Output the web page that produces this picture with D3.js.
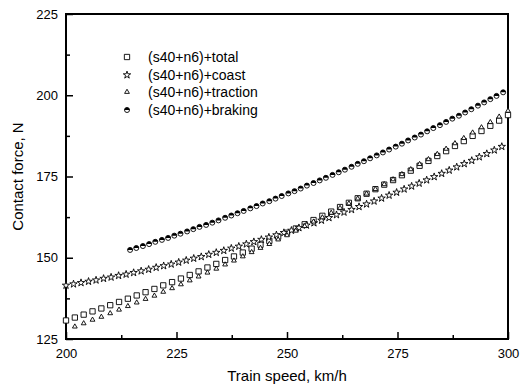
<!DOCTYPE html>
<html>
<head>
<meta charset="utf-8">
<script src="https://cdn.jsdelivr.net/npm/d3@7"></script>
<style>
  body { margin: 0; background: #fff; }
  svg { display: block; font-family: "Liberation Sans", Arial, sans-serif; }
</style>
</head>
<body>
<div id="chart"></div>
<script>
// total (squares)
const totalSpeed = [200,202,204,206,208,210,212,214,216,218,220,222,224,226,228,230,232,234,236,238,240,242,244,246,248,250,252,254,256,258,260,262,264,266,268,270,272,274,276,278,280,282,284,286,288,290,292,294,296,298,300];
const totalForce = [130.7,131.6,132.5,133.5,134.4,135.4,136.4,137.4,138.4,139.4,140.4,141.5,142.5,143.6,144.7,145.8,147.0,148.1,149.3,150.4,151.6,152.8,154.0,155.2,156.5,157.7,159.0,160.3,161.6,162.9,164.2,165.6,166.9,168.3,169.7,171.1,172.5,173.9,175.4,176.8,178.3,179.8,181.3,182.8,184.4,185.9,187.5,189.0,190.6,192.2,193.9];

// coast (stars)
const coastSpeed = [200,201.7,203.4,205.1,206.8,208.5,210.2,211.9,213.6,215.3,217,218.7,220.4,222.1,223.8,225.5,227.2,228.9,230.6,232.3,234,235.7,237.4,239.1,240.8,242.5,244.2,245.9,247.6,249.3,251,252.7,254.4,256.1,257.8,259.5,261.2,262.9,264.6,266.3,268,269.7,271.4,273.1,274.8,276.5,278.2,279.9,281.6,283.3,285,286.7,288.4,290.1,291.8,293.5,295.2,296.9,298.6];
const coastForce = [141.5,141.9,142.3,142.7,143.1,143.6,144.0,144.5,144.9,145.4,145.9,146.4,147.0,147.5,148.0,148.6,149.2,149.8,150.3,151.0,151.6,152.2,152.9,153.5,154.2,154.9,155.6,156.3,157.0,157.7,158.4,159.2,160.0,160.7,161.5,162.3,163.2,164.0,164.8,165.7,166.5,167.4,168.3,169.2,170.1,171.1,172.0,172.9,173.9,174.9,175.9,176.9,177.9,178.9,179.9,181.0,182.0,183.1,184.2];

// traction (triangles)
const tractionSpeed = [202,204,206,208,210,212,214,216,218,220,222,224,226,228,230,232,234,236,238,240,242,244,246,248,250,252,254,256,258,260,262,264,266,268,270,272,274,276,278,280,282,284,286,288,290,292,294,296,298,300];
const tractionForce = [128.8,129.8,130.9,131.8,132.9,134.0,135.1,136.2,137.3,138.3,139.5,140.6,141.8,143.0,144.2,145.4,146.6,147.9,149.1,150.4,151.7,153.0,154.2,155.6,156.9,158.3,159.7,161.1,162.4,163.8,165.3,166.7,168.2,169.7,171.1,172.6,174.1,175.7,177.2,178.8,180.3,181.9,183.5,185.2,186.8,188.5,190.1,191.7,193.4,195.2];

// braking (half-filled circles)
const brakingSpeed = [214.5,215.9,217.4,218.8,220.2,221.7,223.1,224.5,225.9,227.4,228.8,230.2,231.7,233.1,234.5,236.0,237.4,238.8,240.2,241.7,243.1,244.5,246.0,247.4,248.8,250.3,251.7,253.1,254.5,256.0,257.4,258.8,260.3,261.7,263.1,264.6,266.0,267.4,268.8,270.3,271.7,273.1,274.6,276.0,277.4,278.9,280.3,281.7,283.1,284.6,286.0,287.4,288.9,290.3,291.7,293.2,294.6,296.0,297.4,298.9];
const brakingForce = [152.4,153.0,153.6,154.2,154.9,155.5,156.1,156.8,157.4,158.1,158.8,159.5,160.1,160.8,161.5,162.3,163.0,163.7,164.4,165.2,165.9,166.7,167.4,168.2,169.0,169.8,170.5,171.3,172.2,173.0,173.8,174.6,175.5,176.3,177.1,178.0,178.9,179.7,180.6,181.5,182.4,183.3,184.2,185.1,186.1,187.0,187.9,188.9,189.9,190.8,191.8,192.8,193.7,194.7,195.7,196.8,197.8,198.8,199.8,200.9];

const xTicks = [200, 225, 250, 275, 300];
const yTicks = [125, 150, 175, 200, 225];
const legendLabels = ["(s40+n6)+total", "(s40+n6)+coast", "(s40+n6)+traction", "(s40+n6)+braking"];

const width = 525, height = 386;
const margin = { top: 14, right: 17, bottom: 47, left: 66 };

const svg = d3.select("#chart").append("svg")
  .attr("width", width)
  .attr("height", height);

const x = d3.scaleLinear().domain([200, 300]).range([margin.left, width - margin.right]);
const y = d3.scaleLinear().domain([125, 225]).range([height - margin.bottom, margin.top]);

const toPts = (xs, ys) => xs.map((v, i) => ({ v, f: ys[i] }));

// axes with inward ticks
const xAxis = svg.append("g")
  .attr("transform", `translate(0,${height - margin.bottom})`)
  .call(d3.axisBottom(x).tickValues(d3.range(200, 300.1, 12.5)).tickSize(-4).tickFormat(""));
xAxis.selectAll(".tick line").filter(d => xTicks.includes(d)).attr("y2", -7);
xAxis.select(".domain").remove();

svg.append("g")
  .attr("transform", `translate(0,${height - margin.bottom})`)
  .call(d3.axisBottom(x).tickValues(xTicks).tickSize(0).tickPadding(10))
  .call(g => g.select(".domain").remove())
  .selectAll("text").attr("font-size", 13).attr("fill", "#000")
  .attr("font-family", "Liberation Sans, Arial, sans-serif");

const yAxis = svg.append("g")
  .attr("transform", `translate(${margin.left},0)`)
  .call(d3.axisLeft(y).tickValues(d3.range(125, 225.1, 12.5)).tickSize(-4).tickFormat(""));
yAxis.selectAll(".tick line").filter(d => yTicks.includes(d)).attr("x2", 7);
yAxis.select(".domain").remove();

svg.append("g")
  .attr("transform", `translate(${margin.left},0)`)
  .call(d3.axisLeft(y).tickValues(yTicks).tickSize(0).tickPadding(8))
  .call(g => g.select(".domain").remove())
  .selectAll("text").attr("font-size", 13).attr("fill", "#000")
  .attr("font-family", "Liberation Sans, Arial, sans-serif");

svg.selectAll(".tick line").attr("stroke", "#000").attr("stroke-width", 1.5);

// frame
svg.append("rect")
  .attr("x", margin.left)
  .attr("y", margin.top)
  .attr("width", width - margin.left - margin.right)
  .attr("height", height - margin.top - margin.bottom)
  .attr("fill", "none")
  .attr("stroke", "#000")
  .attr("stroke-width", 2);

// axis titles
svg.append("text")
  .attr("x", (margin.left + width - margin.right) / 2)
  .attr("y", 381)
  .attr("text-anchor", "middle")
  .attr("font-size", 15)
  .text("Train speed, km/h");

svg.append("text")
  .attr("transform", `translate(23,${(margin.top + height - margin.bottom) / 2}) rotate(-90)`)
  .attr("text-anchor", "middle")
  .attr("font-size", 15)
  .text("Contact force, N");

// markers
const sq = d3.symbol().type(d3.symbolSquare).size(28)();
const star = d3.symbol().type(d3.symbolStar).size(17)();
const tri = d3.symbol().type(d3.symbolTriangle).size(10)();
const halfTop = d3.arc().innerRadius(0).outerRadius(2.5).startAngle(-Math.PI / 2).endAngle(Math.PI / 2)();

const plot = svg.append("g");

function drawSymbol(g, data, path) {
  g.selectAll("path")
    .data(data)
    .join("path")
    .attr("transform", d => `translate(${x(d.v)},${y(d.f)})`)
    .attr("d", path)
    .attr("fill", "#fff")
    .attr("stroke", "#000")
    .attr("stroke-width", 0.9);
}

function drawBraking(g, data) {
  const m = g.selectAll("g")
    .data(data)
    .join("g")
    .attr("transform", d => `translate(${x(d.v)},${y(d.f)})`);
  m.append("circle").attr("r", 2.5).attr("fill", "#fff").attr("stroke", "#000").attr("stroke-width", 0.9);
  m.append("path").attr("d", halfTop).attr("fill", "#000");
}

drawSymbol(plot.append("g"), toPts(totalSpeed, totalForce), sq);
drawSymbol(plot.append("g"), toPts(coastSpeed, coastForce), star);
drawSymbol(plot.append("g"), toPts(tractionSpeed, tractionForce), tri);
drawBraking(plot.append("g"), toPts(brakingSpeed, brakingForce));

// legend
const legend = svg.append("g");
const legendY = [57, 75, 92, 110];
legendLabels.forEach((label, i) => {
  const row = legend.append("g").attr("transform", `translate(127,${legendY[i]})`);
  if (i === 3) {
    row.append("circle").attr("r", 2.5).attr("fill", "#fff").attr("stroke", "#000").attr("stroke-width", 0.9);
    row.append("path").attr("d", halfTop).attr("fill", "#000");
  } else {
    row.append("path")
      .attr("d", [sq, star, tri][i])
      .attr("fill", "#fff")
      .attr("stroke", "#000")
      .attr("stroke-width", 0.9);
  }
  row.append("text")
    .attr("x", 21)
    .attr("y", 5)
    .attr("font-size", 14)
    .text(label);
});
</script>
</body>
</html>
